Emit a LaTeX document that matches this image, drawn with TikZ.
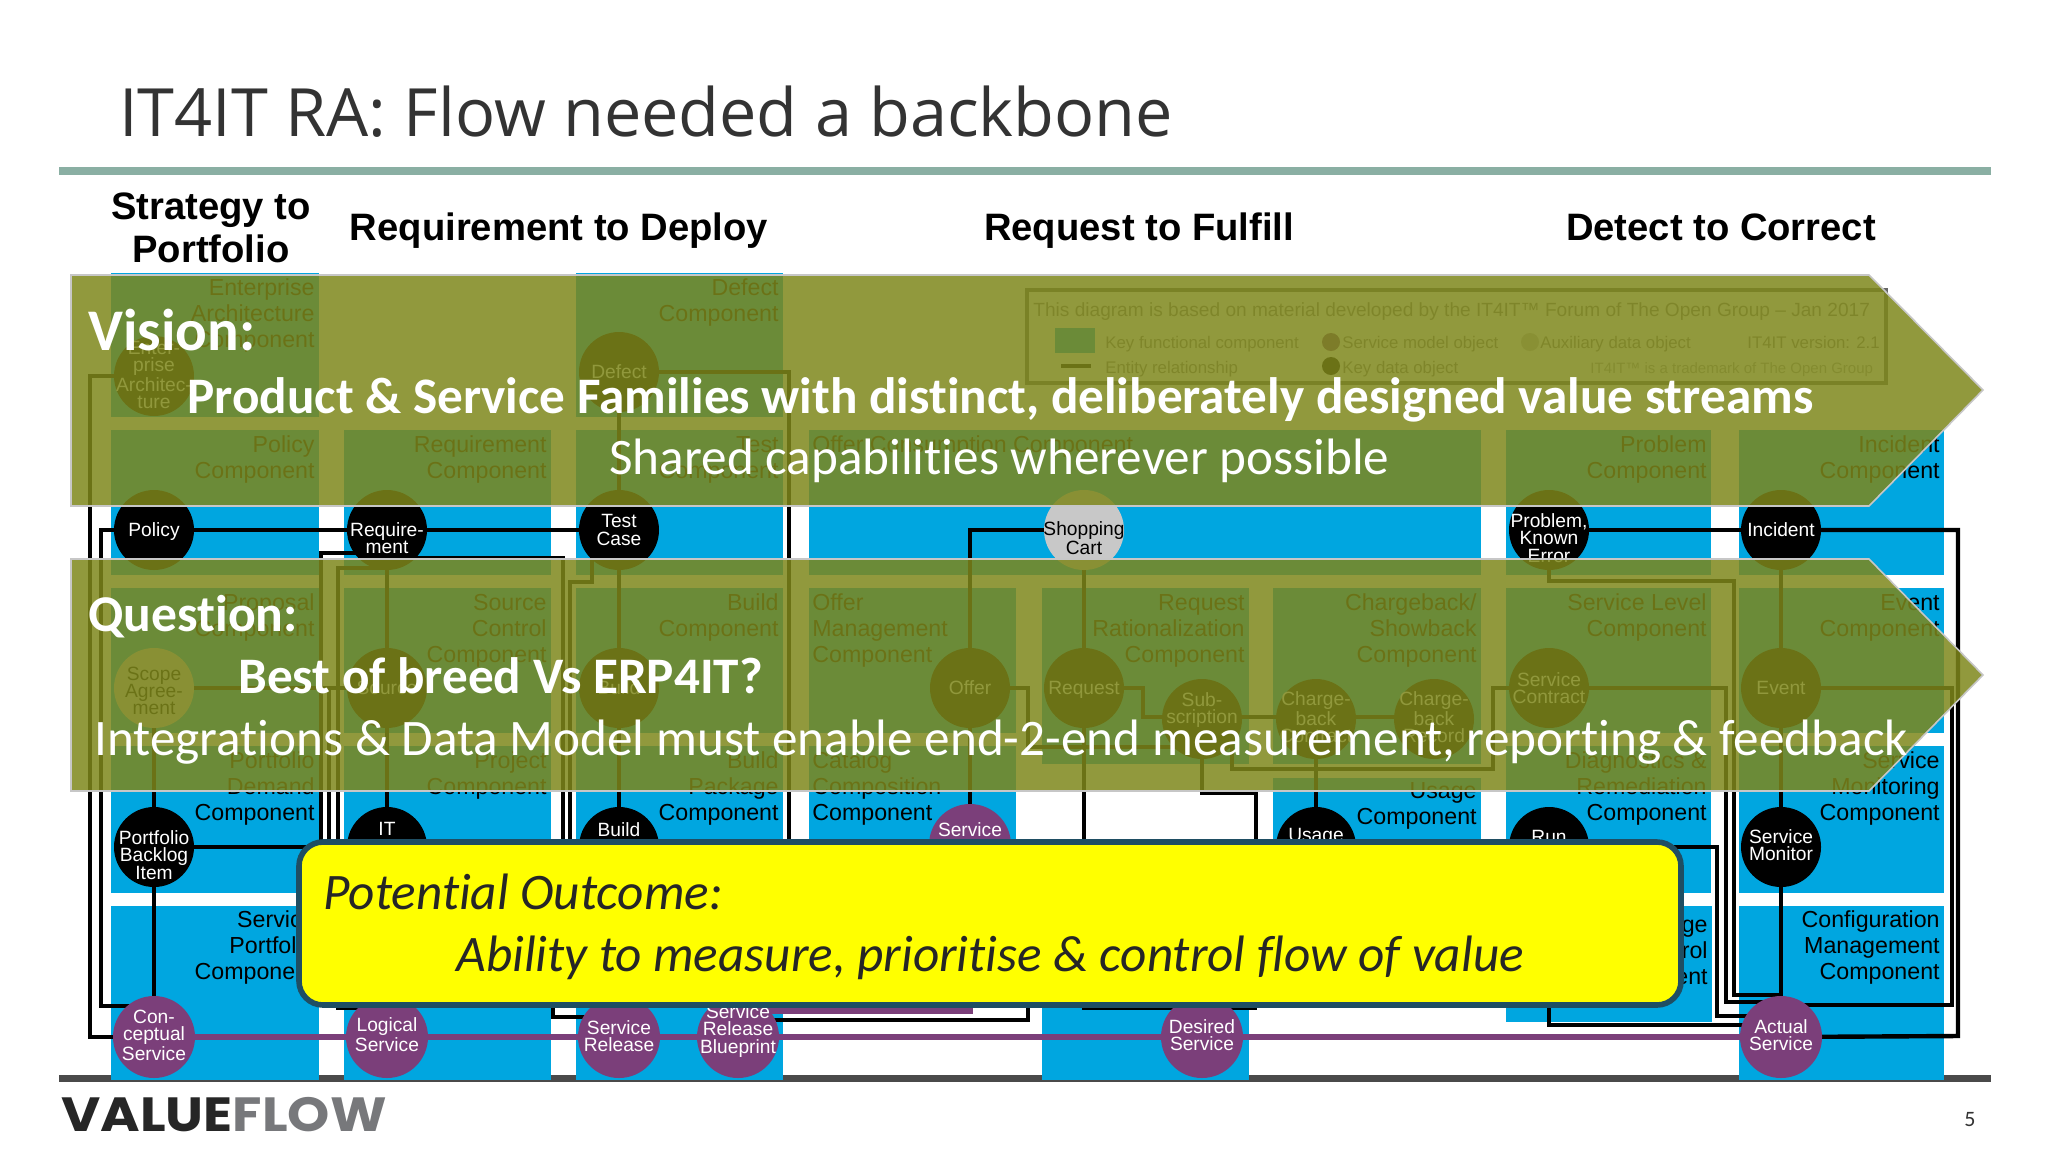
\documentclass[tikz,border=0pt]{standalone}
\usepackage{fontspec}
\setmainfont{Liberation Sans}
\newfontfamily\arialfont{Liberation Sans}
\newfontfamily\calfont[Ligatures=NoCommon]{Carlito}
\newfontfamily\titlefont{Open Sans}
\newfontfamily\logofont{Poppins}
\definecolor{cblue}{HTML}{00A6E0}
\definecolor{cteal}{HTML}{8AAFA3}
\definecolor{cdark}{HTML}{4A4A4A}
\definecolor{cpurple}{HTML}{7B3F7A}
\definecolor{cgrey}{HTML}{C8C8C8}
\definecolor{colive}{HTML}{7E871B}
\definecolor{cyel}{HTML}{FFFF00}
\definecolor{cnavy}{HTML}{1F4E63}
\definecolor{clogo}{HTML}{77787B}
\pgfdeclarelayer{boxes}
\pgfdeclarelayer{wires}
\pgfdeclarelayer{over}
\pgfdeclarelayer{top}
\pgfsetlayers{boxes,wires,main,over,top}
\tikzset{
  obj/.style={circle,minimum size=40pt,inner sep=0pt,draw=none},
  key/.style={obj,fill=black},
  model/.style={obj,fill=cpurple,minimum size=41pt},
  aux/.style={obj,fill=cgrey},
  ctext/.style={inner sep=0pt,align=center,font=\arialfont\fontsize{9.6}{8.6}\selectfont},
  keytext/.style={ctext,text=white},
  modeltext/.style={ctext,text=white},
  auxtext/.style={ctext,text=black},
  complabel/.style={inner sep=0pt,align=right,anchor=north east,font=\arialfont\fontsize{11.6}{13}\selectfont,text=black},
  complabelL/.style={inner sep=0pt,align=left,anchor=north west,font=\arialfont\fontsize{11.6}{13}\selectfont,text=black},
  wire/.style={draw=black,line width=2.2pt,line join=miter},
  head/.style={inner sep=0pt,align=center,font=\arialfont\bfseries\fontsize{19.1}{21.5}\selectfont,text=black},
  arrowshape/.style={fill=colive,fill opacity=.85,draw=black!22,line width=.8pt},
  bigtext/.style={inner sep=0pt,anchor=base west,text=white,font=\calfont},
  outcome/.style={inner sep=0pt,anchor=base west,text=black!85,font=\calfont\itshape\fontsize{25.6}{29}\selectfont},
  legtext/.style={inner sep=0pt,anchor=base west,text=black!50,font=\arialfont\fontsize{8.4}{10}\selectfont},
}
\newcommand{\compbox}[7][complabel]{% style, name, x1,y1,x2,y2, text
  \fill[cblue] (#3,#4) rectangle (#5,#6);
  \node[#1] (#2) at (#5-4,#4+4) {#7};}
\newcommand{\compboxL}[6]{%
  \fill[cblue] (#2,#3) rectangle (#4,#5);
  \node[complabelL] (#1) at (#2+3,#3+4) {#6};}
\newcommand{\objnode}[6]{% style,name,x,y,dy,text
  \node[#1] (#2) at (#3,#4) {};
  \node[#1text] (#2 t) at (#3,{#4+#5}) {#6};}
\newcommand{\st}{\vrule height 9pt depth 0pt width 0pt}
\begin{document}
\begin{tikzpicture}[x=0.5pt,y=-0.5pt]
\useasboundingbox (0,0) rectangle (2048,1152);
% ---- title, rules
\node[inner sep=0pt,anchor=base west,text=black!80,font=\titlefont\fontsize{33.3}{38}\selectfont] (title) at (119,136) {IT4IT RA: Flow needed a backbone};
\fill[cteal] (59,167) rectangle (1991,175);
\node[head] (h1) at (211,228) {Strategy to\\Portfolio};
\node[head,anchor=base] (h2) at (559,240) {Requirement to Deploy};
\node[head,anchor=base] (h3) at (1139,240) {Request to Fulfill};
\node[head,anchor=base] (h4) at (1721,240) {Detect to Correct};
% ---- components
\begin{pgfonlayer}{boxes}
\fill[cdark] (59,1075) rectangle (1991,1082);
\compbox{c1}{111}{273}{319}{417}{\st Enterprise\\Architecture\\Component}
\compbox{c2}{576}{273}{783}{417}{\st Defect\\Component}
\compbox{c3}{111}{430}{319}{575}{\st Policy\\Component}
\compbox{c4}{344}{430}{551}{575}{\st Requirement\\Component}
\compbox{c5}{576}{430}{783}{575}{\st Test\\Component}
\compboxL{c6}{809}{430}{1481}{575}{\st Offer Consumption Component}
\compbox{c7}{1506}{430}{1711}{575}{\st Problem\\Component}
\compbox{c8}{1739}{430}{1944}{575}{\st Incident\\Component}
\compbox{c9}{111}{588}{319}{733}{\st Proposal\\Component}
\compbox{c10}{344}{588}{551}{733}{\st Source\\Control\\Component}
\compbox{c11}{576}{588}{783}{733}{\st Build\\Component}
\compboxL{c12}{809}{588}{1016}{733}{\st Offer\\Management\\Component}
\compbox{c13}{1042}{588}{1249}{764}{\st Request\\Rationalization\\Component}
\compbox{c14}{1273}{588}{1481}{764}{\st Chargeback/\\Showback\\Component}
\compbox{c15}{1506}{588}{1711}{733}{\st Service Level\\Component}
\compbox{c16}{1739}{588}{1944}{733}{\st Event\\Component}
\compbox{c17}{111}{746}{319}{893}{\st Portfolio\\Demand\\Component}
\compbox{c18}{344}{746}{551}{893}{\st Project\\Component}
\compbox{c19}{576}{746}{783}{893}{\st Build\\Package\\Component}
\compboxL{c20}{809}{746}{1016}{893}{\st Catalog\\Composition\\Component}
\compbox{c21}{1273}{778}{1481}{893}{\vrule height 7.7pt depth 0pt width 0pt Usage\\Component}
\compbox{c22}{1506}{746}{1711}{893}{\st Diagnostics \&\\Remediation\\Component}
\compbox{c23}{1739}{746}{1944}{893}{\st Service\\Monitoring\\Component}
\compbox{c24}{111}{906}{319}{1080}{\vrule height 8pt depth 0pt width 0pt Service\\Portfolio\\Component}
\fill[cblue] (344,906) rectangle (551,1080);
\fill[cblue] (576,906) rectangle (783,1080);
\fill[cblue] (1042,906) rectangle (1249,1080);
\compbox{c25}{1506}{906}{1712}{1022}{\vrule height 11pt depth 0pt width 0pt Change\\Control\\Component}
\compbox{c26}{1739}{906}{1944}{1080}{\vrule height 8pt depth 0pt width 0pt Configuration\\Management\\Component}
\end{pgfonlayer}
% ---- data objects
\objnode{key}{enterprise}{154}{376}{-1}{Enter-\\prise\\Architec-\\ture}
\objnode{key}{defect}{619}{372}{0}{Defect}
\objnode{key}{policy}{154}{530}{2}{Policy}
\objnode{key}{req}{387}{530}{8}{Require-\\ment}
\objnode{key}{test}{619}{530}{0}{Test\\Case}
\objnode{aux}{cart}{1084}{530}{8}{Shopping\\Cart}
\objnode{key}{problem}{1549}{530}{8}{Problem,\\Known\\Error}
\objnode{key}{incident}{1781}{530}{0}{Incident}
\objnode{aux}{scope}{154}{688}{3}{Scope\\Agree-\\ment}
\objnode{key}{source}{387}{688}{0}{Source}
\objnode{key}{build}{619}{688}{0}{Build}
\objnode{key}{offer}{970}{688}{0}{Offer}
\objnode{key}{request}{1084}{688}{2}{Request}
\objnode{key}{sub}{1202}{719}{-9}{Sub-\\scription}
\objnode{key}{cbc}{1316}{719}{-2}{Charge-\\back\\Contract}
\objnode{key}{cbr}{1434}{719}{-2}{Charge-\\back\\Record}
\objnode{key}{contract}{1549}{688}{0}{Service\\Contract}
\objnode{key}{event}{1781}{688}{0}{Event}
\objnode{key}{backlog}{154}{847}{8}{Portfolio\\Backlog\\Item}
\objnode{key}{it}{387}{847}{-18}{IT}
\objnode{key}{bpkg}{619}{847}{-17}{Build}
\objnode{model}{catalog}{970}{845}{-15}{Service}
\objnode{key}{usage}{1316}{847}{-10}{Usage}
\objnode{key}{run}{1549}{847}{-10}{Run}
\objnode{key}{monitor}{1781}{847}{-2}{Service\\Monitor}
\objnode{model}{concept}{154}{1037}{-2}{Con-\\ceptual\\Service}
\objnode{model}{logical}{387}{1037}{-2}{Logical\\Service}
\objnode{model}{release}{619}{1037}{-1}{Service\\Release}
\objnode{model}{blueprint}{738}{1037}{-6}{Service\\Release\\Blueprint}
\objnode{model}{desired}{1202}{1037}{-2}{Desired\\Service}
\objnode{model}{actual}{1781}{1037}{-2}{Actual\\Service}
% ---- connectors
\begin{pgfonlayer}{wires}
\coordinate (tc) at (592,535);
\draw[wire] (enterprise.center) -- (90,376) -- (90,1037) -- (concept.center);
\draw[wire] (policy.center) -- (101,530) -- (101,1006) -- (concept.center |- 0,1006);
\draw[wire] (scope.center) -- (backlog.center) -- (concept.center);
\draw[wire] (scope.center) -- (source.center);
\draw[wire] (backlog.center) -- (330,847);
\draw[wire] (policy.center) -- (req.center) -- (test.center);
\draw[wire] (req.center) -- (source.center) -- (it.center);
\draw[wire] (defect.center) -- (test.center) -- (build.center) -- (bpkg.center);
\draw[wire] (defect.center) -- (789,372) -- (789,880);
\draw[wire] (req.center |- 0,553) -- (321,553) -- (321,900);
\draw[wire] (req.center |- 0,558) -- (563,558) -- (563,900);
\draw[wire] (329,688) -- (329,900);
\draw[wire] (req.center |- 0,568) -- (338,568) -- (338,1008) -- (logical.center |- 0,1008);
\draw[wire] (tc) -- (592,582) -- (570,582) -- (570,900);
\draw[wire] (553,900) -- (553,1017) -- (release.center |- 0,1017);
\draw[wire] (cart.center) -- (970,530) -- (offer.center) -- (catalog.center);
\draw[wire] (cart.center) -- (request.center) -- (1084,1008) -- (1257,1008);
\draw[wire] (offer.center) -- (1028,688) -- (1028,747) -- (sub.center |- 0,747);
\draw[wire] (request.center) -- (1143,688) -- (1143,717) -- (cbr.center |- 0,717);
\draw[wire] (1232,717) -- (1232,769) -- (1493,769) -- (1493,688) -- (contract.center);
\draw[wire] (sub.center) -- (1202,793) -- (1256,793) -- (1256,1008);
\draw[wire] (cbc.center) -- (usage.center);
\draw[wire] (1028,950) -- (1028,1020) -- (blueprint.center |- 0,1020);
\draw[wire] (problem.center) -- (1549,581) -- (1734,581) -- (1734,995) -- (actual.center |- 0,995);
\draw[wire] (contract.center) -- (1726,688) -- (1726,1002) -- (actual.center |- 0,1002);
\draw[wire] (run.center) -- (1717,847) -- (1717,1016) -- (actual.center |- 0,1016);
\draw[wire] (run.center) -- (1549,1025) -- (actual.center |- 0,1025);
\draw[wire] (problem.center) -- (incident.center);
\draw[wire] (incident.center) -- (1958,530) -- (1958,1036) -- (actual.center);
\draw[wire] (incident.center) -- (event.center) -- (monitor.center) -- (actual.center);
\draw[wire] (event.center) -- (1952,688) -- (1952,1005) -- (actual.center |- 0,1005);
\draw[cpurple,line width=3pt] (concept.center) -- (actual.center);
\draw[cpurple,line width=4pt] (blueprint.center |- 0,1010) -- (973,1010);
% ---- legend
\draw[black!60,line width=1.8pt] (1027,290) rectangle (1886,383);
\node[legtext,font=\arialfont\fontsize{9.55}{10}\selectfont] (l0) at (1033,316) {This diagram is based on material developed by the IT4IT™ Forum of The Open Group – Jan 2017};
\fill[cblue] (1055,328) rectangle (1095,353);
\node[legtext] (l1) at (1105,348) {Key functional component};
\fill[cpurple] (1331,342) circle (4.5pt);
\node[legtext] (l2) at (1342,348) {Service model object};
\fill[cgrey] (1530,342) circle (4.5pt);
\node[legtext] (l3) at (1540,348) {Auxiliary data object};
\node[legtext] (l4) at (1747,348) {IT4IT version: 2.1};
\draw[black,line width=2pt] (1061,366) -- (1091,366);
\node[legtext] (l5) at (1105,373) {Entity relationship};
\fill[black] (1331,366) circle (4.5pt);
\node[legtext] (l6) at (1342,373) {Key data object};
\node[legtext,font=\arialfont\fontsize{7.5}{8}\selectfont,text=black!35] (l7) at (1590,373) {IT4IT™ is a trademark of The Open Group};
\end{pgfonlayer}
% ---- the two arrows
\begin{pgfonlayer}{over}
\path[arrowshape] (71,275) -- (1869,275) -- (1983,390) -- (1869,506) -- (71,506) -- cycle;
\path[arrowshape] (71,559) -- (1869,559) -- (1983,675) -- (1869,791) -- (71,791) -- cycle;
\end{pgfonlayer}
% ---- top texts, yellow box, footer
\begin{pgfonlayer}{top}
\node[bigtext,font=\calfont\bfseries\fontsize{29.5}{30}\selectfont] (v1) at (88,350) {Vision:};
\node[bigtext,font=\calfont\bfseries\fontsize{25.6}{28}\selectfont] (v2) at (187,413) {Product \& Service Families with distinct, deliberately designed value streams};
\node[bigtext,font=\calfont\fontsize{25.6}{28}\selectfont] (v3) at (609,474) {Shared capabilities wherever possible};
\node[bigtext,font=\calfont\bfseries\fontsize{25.8}{28}\selectfont] (q1) at (88,631) {Question:};
\node[bigtext,font=\calfont\bfseries\fontsize{25.6}{28}\selectfont] (q2) at (238,693) {Best of breed Vs ERP4IT?};
\node[bigtext,font=\calfont\fontsize{25.6}{28}\selectfont] (q3) at (94,755) {Integrations \& Data Model must enable end-2-end measurement, reporting \& feedback};
\draw[cnavy,fill=cyel,line width=2.8pt,rounded corners=12pt] (299,842) rectangle (1681,1005);
\node[outcome] (o1) at (323,909) {Potential Outcome:};
\node[outcome] (o2) at (456,971) {Ability to measure, prioritise \& control flow of value};
\node[inner sep=0pt,anchor=base west,font=\logofont\bfseries\fontsize{24}{26}\selectfont] (logo) at (61,1131) {\scalebox{1.12}[1]{\textcolor{black!85}{VALUE}\textcolor{clogo}{FLOW}}};
\node[inner sep=0pt,font=\calfont\fontsize{11}{12}\selectfont,text=black!80] (page) at (1970,1119) {5};
\end{pgfonlayer}
\end{tikzpicture}
\end{document}
